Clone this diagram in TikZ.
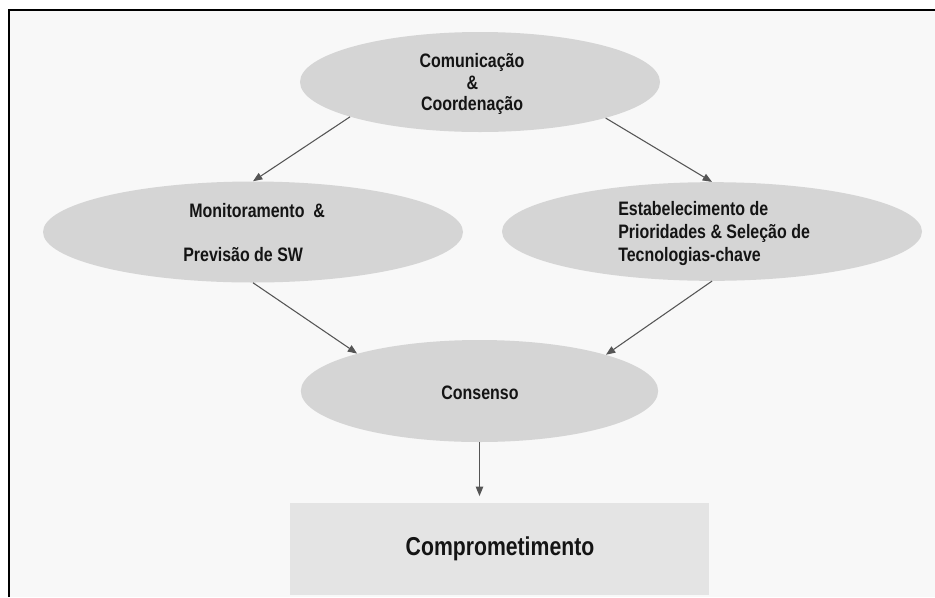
\documentclass[tikz,border=0pt]{standalone}
\usepackage{fontspec}
\setmainfont{Liberation Sans}[FakeStretch=0.82]
\usetikzlibrary{shapes.geometric,arrows.meta}

\definecolor{pagebg}{RGB}{248,248,248}
\definecolor{ovalfill}{RGB}{213,213,213}
\definecolor{boxfill}{RGB}{228,228,228}
\definecolor{arrowgray}{RGB}{85,85,85}
\definecolor{ink}{RGB}{20,20,20}

\tikzset{
  oval/.style={ellipse, fill=ovalfill, draw=none, inner sep=0pt},
  label/.style={text=ink, inner sep=0pt, font=\fontsize{14.6pt}{16pt}\selectfont\bfseries},
  biglabel/.style={text=ink, inner sep=0pt, font=\fontsize{19.4pt}{21pt}\selectfont\bfseries},
  arr/.style={draw=arrowgray, line width=0.8pt,
    -{Triangle[length=7pt,width=5.5pt,fill=arrowgray]}}
}

\begin{document}
\begin{tikzpicture}[x=0.75pt, y=-0.75pt]
  \useasboundingbox (0,0) rectangle (935,597);
  % page and frame
  \fill[white] (0,0) rectangle (935,597);
  \fill[pagebg] (9,10) rectangle (935,597);
  \draw[black, line width=1pt] (9,597) -- (9,10) -- (935,10);

  % shapes
  \node[oval, minimum width=270pt, minimum height=75pt] (top) at (480,82) {};
  \node[oval, minimum width=315pt, minimum height=75.75pt] (left) at (253,232) {};
  \node[oval, minimum width=315pt, minimum height=74pt] (right) at (712,231.5) {};
  \node[oval, minimum width=268pt, minimum height=76.5pt] (cons) at (479.5,391) {};
  \node[rectangle, fill=boxfill, inner sep=0pt, minimum width=314.25pt,
        minimum height=69pt] (box) at (499.5,549) {};

  % texts
  \node[label, anchor=base] (t1) at (472,67.5) {Comunicação};
  \node[label, anchor=base] (t2) at (472.5,89) {\&};
  \node[label, anchor=base] (t3) at (472,110) {Coordenação};

  \node[label, anchor=base west] (l1) at (189,217.5) {Monitoramento\ \ \&};
  \node[label, anchor=base west] (l2) at (183,261.5) {Previsão de SW};

  \node[label, anchor=base west] (r1) at (618,215) {Estabelecimento de};
  \node[label, anchor=base west] (r2) at (618,238.5) {Prioridades \& Seleção de};
  \node[label, anchor=base west] (r3) at (618,261.5) {Tecnologias-chave};

  \node[label, anchor=base] (c1) at (480,399) {Consenso};
  \node[biglabel, anchor=base] (b1) at (500,555) {Comprometimento};

  % connectors
  \draw[arr] (top.195.7) -- (left.north);
  \draw[arr] (top.344.5) -- (right.north);
  \draw[arr] (left.south) -- (cons.163.4);
  \draw[arr] (right.south) -- (cons.16.5);
  \draw[arr, shorten >=5pt] (cons.south) -- (cons.south |- box.north);
\end{tikzpicture}
\end{document}
